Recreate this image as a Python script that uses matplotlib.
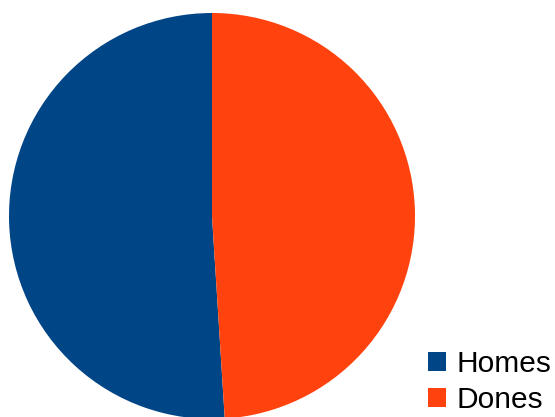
import matplotlib
matplotlib.use("Agg")
import matplotlib.pyplot as plt

# data
labels = ["Homes", "Dones"]
values = [51, 49]
colors = ["#004586", "#ff420e"]

plt.rcParams["font.family"] = ["Liberation Sans", "DejaVu Sans"]

W, H = 555, 417
fig = plt.figure(figsize=(W / 100, H / 100), dpi=100)
ax = fig.add_axes([0, 0, 1, 1])

wedges, _ = ax.pie(values, colors=colors, startangle=90, counterclock=True,
                   center=(212, H - 216), radius=203, frame=True,
                   wedgeprops=dict(linewidth=0))
ax.set_xlim(0, W)
ax.set_ylim(0, H)
ax.set_aspect("equal")
ax.axis("off")

ax.legend(wedges, labels, loc="lower left",
          bbox_to_anchor=(428 / W, 3 / H), bbox_transform=fig.transFigure,
          frameon=False, fontsize=21.5, handlelength=0.6, handleheight=0.6,
          handletextpad=0.35, labelspacing=0.28, borderpad=0, borderaxespad=0)

fig.savefig("out.png", dpi=100)
